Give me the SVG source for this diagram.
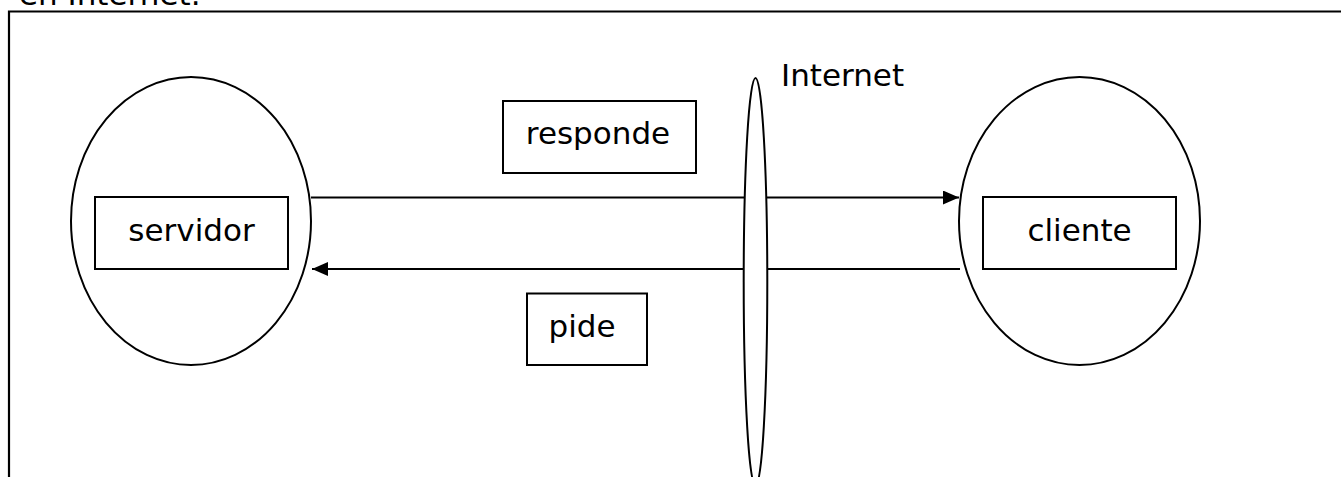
<svg xmlns="http://www.w3.org/2000/svg" width="1341" height="477" viewBox="0 0 1341 477">
  <style>
    .shape { fill: #fff; stroke: #000; stroke-width: 2; }
    .box { fill: #fff; stroke: #000; stroke-width: 2; }
    .label { font-family: "DejaVu Sans", Verdana, sans-serif; font-size: 31px; fill: #000; }
    .mid { text-anchor: middle; }
    .link { fill: none; stroke: #000; stroke-width: 2; }
  </style>
  <defs>
    <marker id="arrow" markerUnits="userSpaceOnUse" markerWidth="16" markerHeight="14" refX="16" refY="7" orient="auto">
      <path d="M0,0 L16,7 L0,14 Z" fill="#000"/>
    </marker>
  </defs>

  <rect width="1341" height="477" fill="#fff"/>

  <!-- caption line running above the frame -->
  <text class="label" x="19" y="4.5" font-size="27">en Internet.</text>

  <!-- page frame (open at right and bottom) -->
  <path d="M9,477 V11.5 H1341" fill="none" stroke="#000" stroke-width="2.2"/>

  <!-- connectors -->
  <g id="connectors">
    <line class="link" x1="311" y1="197.5" x2="959" y2="197.5" marker-end="url(#arrow)"/>
    <line class="link" x1="960" y1="269" x2="312" y2="269" marker-end="url(#arrow)"/>
  </g>

  <!-- server node -->
  <g id="servidor">
    <ellipse class="shape" cx="191" cy="221" rx="120" ry="144" style="fill:none"/>
    <rect class="box" x="95" y="197" width="193" height="72"/>
    <text class="label mid" x="191.5" y="241">servidor</text>
  </g>

  <!-- client node -->
  <g id="cliente">
    <ellipse class="shape" cx="1079.5" cy="221" rx="120.5" ry="144" style="fill:none"/>
    <rect class="box" x="983" y="197" width="193" height="72"/>
    <text class="label mid" x="1079.5" y="241">cliente</text>
  </g>

  <!-- Internet boundary -->
  <g id="internet">
    <ellipse class="shape" cx="755.5" cy="282" rx="11.8" ry="204"/>
    <text class="label" x="781" y="86">Internet</text>
  </g>

  <!-- connector labels -->
  <g id="responde">
    <rect class="box" x="503" y="101" width="193" height="72"/>
    <text class="label mid" x="598" y="143.5">responde</text>
  </g>
  <g id="pide">
    <rect class="box" x="527" y="293.5" width="120" height="71.5"/>
    <text class="label mid" x="582" y="337">pide</text>
  </g>
</svg>
